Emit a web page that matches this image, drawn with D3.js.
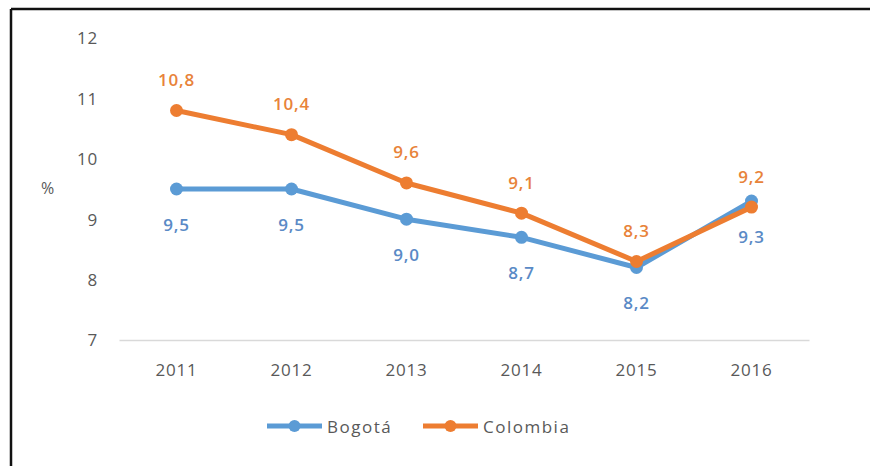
<!DOCTYPE html>
<html>
<head>
<meta charset="utf-8">
<script src="https://cdn.jsdelivr.net/npm/d3@7"></script>
<style>
  html, body { margin: 0; padding: 0; background: #fff; }
  svg { display: block; }
  text { font-family: "Open Sans", Lato, "Liberation Sans", sans-serif; letter-spacing: 0.8px; }
</style>
</head>
<body>
<svg id="chart" width="870" height="466"></svg>
<script>
// Tasa (%) por año
const years = ["2011", "2012", "2013", "2014", "2015", "2016"];
const bogota = [9.5, 9.5, 9.0, 8.7, 8.2, 9.3];
const colombia = [10.8, 10.4, 9.6, 9.1, 8.3, 9.2];
const yTicks = [7, 8, 9, 10, 11, 12];
const seriesNames = ["Bogotá", "Colombia"];

const colors = { "Bogotá": "#5B9BD5", "Colombia": "#ED7D31" };
const labelColors = { "Bogotá": "#5A8AC6", "Colombia": "#E8833A" };

const svg = d3.select("#chart");

// Frame (top and left edges)
svg.append("line").attr("x1", 11).attr("x2", 870).attr("y1", 9).attr("y2", 9)
  .attr("stroke", "#111").attr("stroke-width", 2.5);
svg.append("line").attr("x1", 11).attr("x2", 11).attr("y1", 9).attr("y2", 466)
  .attr("stroke", "#111").attr("stroke-width", 2.5);

const x = d3.scaleBand().domain(years).range([119, 809]);
const y = d3.scaleLinear().domain([7, 12]).range([340, 38]);
const cx = d => x(d) + x.bandwidth() / 2;

// Category axis
const xAxis = d3.axisBottom(x).tickSize(0).tickPadding(0);
const gx = svg.append("g").attr("transform", "translate(0,340)").call(xAxis);
gx.select(".domain").attr("stroke", "#D9D9D9").attr("stroke-width", 1.3);
gx.selectAll("text").attr("dy", null).attr("y", 36)
  .attr("fill", "#595959").attr("font-size", 17)
  .attr("font-family", "'Open Sans', sans-serif");

// Value axis (labels only)
const yAxis = d3.axisLeft(y).tickValues(yTicks).tickFormat(d3.format("d"))
  .tickSize(0).tickPadding(0);
const gy = svg.append("g").attr("transform", "translate(98,0)").call(yAxis);
gy.select(".domain").remove();
gy.selectAll("text").attr("fill", "#595959").attr("font-size", 17)
  .attr("font-family", "'Open Sans', sans-serif")
  .attr("dy", "0.35em");

svg.append("text").attr("x", 48).attr("y", 188).attr("text-anchor", "middle")
  .attr("dominant-baseline", "central").attr("fill", "#595959")
  .attr("font-size", 16).text("%");

const series = [
  { name: "Bogotá", values: bogota, labelDy: 35 },
  { name: "Colombia", values: colombia, labelDy: -31 }
];

const line = d3.line().x((d, i) => cx(years[i])).y(d => y(d));

series.forEach(s => {
  const g = svg.append("g");
  g.append("path").datum(s.values).attr("d", line)
    .attr("fill", "none").attr("stroke", colors[s.name])
    .attr("stroke-width", 5).attr("stroke-linejoin", "round");
  g.selectAll("circle").data(s.values).join("circle")
    .attr("cx", (d, i) => cx(years[i])).attr("cy", d => y(d))
    .attr("r", 6.5).attr("fill", colors[s.name]);
});

// Data labels
series.forEach(s => {
  svg.append("g").selectAll("text").data(s.values).join("text")
    .attr("x", (d, i) => cx(years[i]))
    .attr("y", d => y(d) + s.labelDy)
    .attr("text-anchor", "middle").attr("dominant-baseline", "central")
    .attr("fill", labelColors[s.name]).attr("font-size", 17)
    .attr("font-weight", 600)
    .text(d => d3.format(".1f")(d).replace(".", ","));
});

// Legend
const legend = [
  { name: "Bogotá", x0: 267 },
  { name: "Colombia", x0: 423 }
];
const lg = svg.append("g");
legend.forEach(l => {
  lg.append("line").attr("x1", l.x0).attr("x2", l.x0 + 55)
    .attr("y1", 426).attr("y2", 426)
    .attr("stroke", colors[l.name]).attr("stroke-width", 5);
  lg.append("circle").attr("cx", l.x0 + 27.5).attr("cy", 426).attr("r", 6)
    .attr("fill", colors[l.name]);
  lg.append("text").attr("x", l.x0 + 60).attr("y", 426)
    .attr("dominant-baseline", "central").attr("fill", "#595959")
    .attr("font-size", 17).style("letter-spacing", "1.5px").text(l.name);
});
</script>
</body>
</html>
